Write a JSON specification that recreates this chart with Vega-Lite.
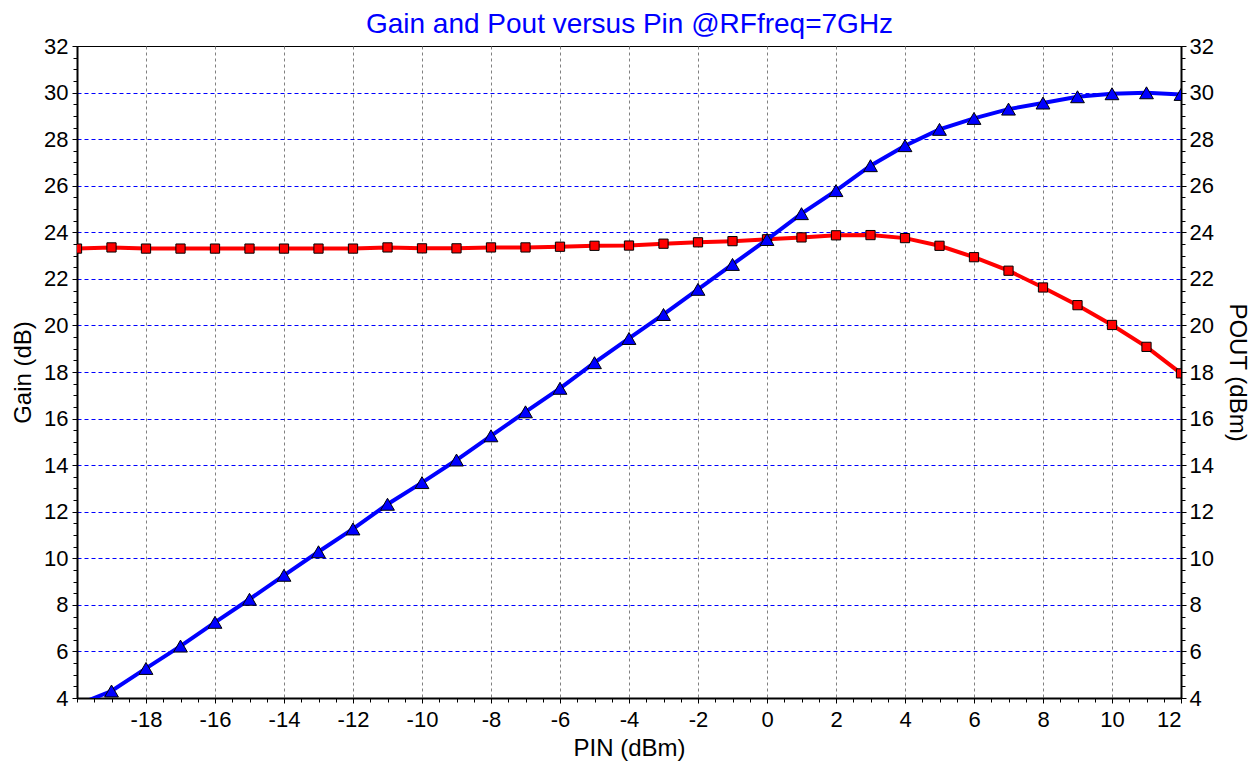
{
  "$schema": "https://vega.github.io/schema/vega-lite/v6.json",
  "width": 1104,
  "height": 652,
  "autosize": {"type": "none"},
  "padding": {"left": 77, "top": 46, "right": 76, "bottom": 65},
  "background": "white",
  "config": {
    "view": {"stroke": "black", "strokeWidth": 1},
    "font": "Liberation Sans",
    "axis": {
      "labelFont": "Liberation Sans",
      "labelFontSize": 22,
      "labelColor": "black",
      "titleFont": "Liberation Sans",
      "titleFontSize": 24,
      "titleFontWeight": "normal",
      "titleColor": "black",
      "domainColor": "black",
      "tickColor": "black"
    }
  },
  "data": {
    "values": [
      {"pin": -20, "gain": 23.3, "pout": 3.7},
      {"pin": -19, "gain": 23.35, "pout": 4.3},
      {"pin": -18, "gain": 23.3, "pout": 5.27},
      {"pin": -17, "gain": 23.3, "pout": 6.23},
      {"pin": -16, "gain": 23.3, "pout": 7.25},
      {"pin": -15, "gain": 23.3, "pout": 8.24},
      {"pin": -14, "gain": 23.3, "pout": 9.27},
      {"pin": -13, "gain": 23.3, "pout": 10.28},
      {"pin": -12, "gain": 23.3, "pout": 11.26},
      {"pin": -11, "gain": 23.35, "pout": 12.32},
      {"pin": -10, "gain": 23.31, "pout": 13.25},
      {"pin": -9, "gain": 23.31, "pout": 14.22},
      {"pin": -8, "gain": 23.35, "pout": 15.26},
      {"pin": -7, "gain": 23.35, "pout": 16.29},
      {"pin": -6, "gain": 23.38, "pout": 17.3},
      {"pin": -5, "gain": 23.42, "pout": 18.4},
      {"pin": -4, "gain": 23.43, "pout": 19.44},
      {"pin": -3, "gain": 23.51, "pout": 20.47},
      {"pin": -2, "gain": 23.57, "pout": 21.55},
      {"pin": -1, "gain": 23.62, "pout": 22.62},
      {"pin": 0, "gain": 23.7, "pout": 23.69},
      {"pin": 1, "gain": 23.78, "pout": 24.8},
      {"pin": 2, "gain": 23.87, "pout": 25.79},
      {"pin": 3, "gain": 23.88, "pout": 26.86},
      {"pin": 4, "gain": 23.75, "pout": 27.72},
      {"pin": 5, "gain": 23.42, "pout": 28.42},
      {"pin": 6, "gain": 22.93, "pout": 28.89},
      {"pin": 7, "gain": 22.35, "pout": 29.29},
      {"pin": 8, "gain": 21.63, "pout": 29.55},
      {"pin": 9, "gain": 20.87, "pout": 29.82},
      {"pin": 10, "gain": 20.02, "pout": 29.95},
      {"pin": 11, "gain": 19.08, "pout": 29.99},
      {"pin": 12, "gain": 17.94, "pout": 29.92}
    ]
  },
  "layer": [
    {
      "mark": {"type": "line", "color": "#FF0000", "strokeWidth": 4, "clip": true},
      "encoding": {
        "x": {
          "field": "pin", "type": "quantitative",
          "scale": {"domain": [-20, 12], "nice": false, "zero": false},
          "axis": {
            "orient": "bottom",
            "title": "PIN (dBm)",
            "values": [-18, -16, -14, -12, -10, -8, -6, -4, -2, 0, 2, 4, 6, 8, 10, 12],
            "labelExpr": "datum.value + ''",
            "tickSize": 5,
            "labelPadding": 6,
            "domainWidth": 2,
            "grid": true,
            "gridColor": "#808080",
            "gridDash": [3, 3],
            "gridWidth": 1,
            "gridOpacity": {"condition": {"test": "datum.value >= 12", "value": 0}, "value": 1},
            "titleBaseline": "alphabetic",
            "titleY": 57,
            "titleX": 552
          }
        },
        "y": {
          "field": "gain", "type": "quantitative",
          "scale": {"domain": [4, 32], "nice": false, "zero": false},
          "axis": {
            "orient": "left",
            "title": "Gain (dB)",
            "values": [4, 6, 8, 10, 12, 14, 16, 18, 20, 22, 24, 26, 28, 30, 32],
            "tickSize": 5,
            "labelPadding": 4,
            "domainWidth": 2,
            "grid": true,
            "gridColor": "#0000FF",
            "gridDash": [4, 3],
            "gridWidth": 1,
            "gridOpacity": {"condition": {"test": "datum.value <= 4 || datum.value >= 32", "value": 0}, "value": 1},
            "titleAngle": -90,
            "titleBaseline": "alphabetic",
            "titleAlign": "center",
            "titleX": -47,
            "titleY": 326
          }
        }
      }
    },
    {
      "mark": {"type": "point", "shape": "square", "filled": true, "fill": "#FF0000", "stroke": "black", "strokeWidth": 1, "size": 85, "opacity": 1, "clip": true},
      "encoding": {
        "x": {
          "field": "pin", "type": "quantitative",
          "axis": {
            "orient": "bottom",
            "title": null,
            "labels": false,
            "domain": false,
            "grid": false,
            "tickSize": 4,
            "values": [-20, -19.5, -19, -18.5, -18, -17.5, -17, -16.5, -16, -15.5, -15, -14.5, -14, -13.5, -13, -12.5, -12, -11.5, -11, -10.5, -10, -9.5, -9, -8.5, -8, -7.5, -7, -6.5, -6, -5.5, -5, -4.5, -4, -3.5, -3, -2.5, -2, -1.5, -1, -0.5, 0, 0.5, 1, 1.5, 2, 2.5, 3, 3.5, 4, 4.5, 5, 5.5, 6, 6.5, 7, 7.5, 8, 8.5, 9, 9.5, 10, 10.5, 11, 11.5, 12]
          }
        },
        "y": {
          "field": "gain", "type": "quantitative",
          "axis": {
            "orient": "left",
            "title": null,
            "labels": false,
            "domain": false,
            "grid": false,
            "tickSize": 4,
            "values": [4, 4.5, 5, 5.5, 6, 6.5, 7, 7.5, 8, 8.5, 9, 9.5, 10, 10.5, 11, 11.5, 12, 12.5, 13, 13.5, 14, 14.5, 15, 15.5, 16, 16.5, 17, 17.5, 18, 18.5, 19, 19.5, 20, 20.5, 21, 21.5, 22, 22.5, 23, 23.5, 24, 24.5, 25, 25.5, 26, 26.5, 27, 27.5, 28, 28.5, 29, 29.5, 30, 30.5, 31, 31.5, 32]
          }
        }
      }
    },
    {
      "mark": {"type": "line", "color": "#0000FF", "strokeWidth": 4, "clip": true},
      "encoding": {
        "x": {
          "field": "pin", "type": "quantitative",
          "axis": {
            "orient": "top",
            "title": "Gain and Pout versus Pin @RFfreq=7GHz",
            "labels": false,
            "ticks": false,
            "domain": false,
            "grid": false,
            "titleFont": "Liberation Sans",
            "titleFontSize": 28,
            "titleFontWeight": "normal",
            "titleColor": "#0000FF",
            "titleBaseline": "alphabetic",
            "titleAlign": "center",
            "titleX": 552,
            "titleY": -14
          }
        },
        "y": {
          "field": "pout", "type": "quantitative",
          "axis": {
            "orient": "right",
            "title": "POUT (dBm)",
            "values": [4, 6, 8, 10, 12, 14, 16, 18, 20, 22, 24, 26, 28, 30, 32],
            "tickSize": 5,
            "labelPadding": 3,
            "domainWidth": 2,
            "grid": false,
            "titleAngle": 90,
            "titleBaseline": "alphabetic",
            "titleAlign": "center",
            "titleX": 48,
            "titleY": 326
          }
        }
      }
    },
    {
      "mark": {"type": "point", "shape": "triangle-up", "filled": true, "fill": "#0000FF", "stroke": "black", "strokeWidth": 1, "size": 190, "opacity": 1, "clip": true},
      "encoding": {
        "x": {"field": "pin", "type": "quantitative", "axis": null},
        "y": {
          "field": "pout", "type": "quantitative",
          "axis": {
            "orient": "right",
            "title": null,
            "labels": false,
            "domain": false,
            "grid": false,
            "tickSize": 4,
            "values": [4, 4.5, 5, 5.5, 6, 6.5, 7, 7.5, 8, 8.5, 9, 9.5, 10, 10.5, 11, 11.5, 12, 12.5, 13, 13.5, 14, 14.5, 15, 15.5, 16, 16.5, 17, 17.5, 18, 18.5, 19, 19.5, 20, 20.5, 21, 21.5, 22, 22.5, 23, 23.5, 24, 24.5, 25, 25.5, 26, 26.5, 27, 27.5, 28, 28.5, 29, 29.5, 30, 30.5, 31, 31.5, 32]
          }
        }
      }
    }
  ],
  "resolve": {"axis": {"x": "independent", "y": "independent"}}
}
